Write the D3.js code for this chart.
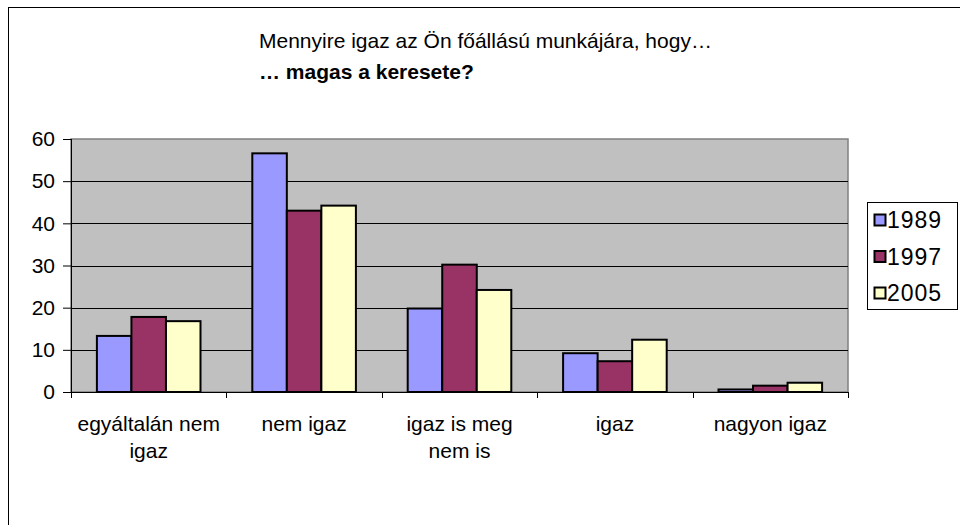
<!DOCTYPE html>
<html>
<head>
<meta charset="utf-8">
<script src="https://cdn.jsdelivr.net/npm/d3@7"></script>
<style>
  body { margin: 0; background: #fff; }
  text { font-family: "Liberation Sans", Arial, sans-serif; fill: #000; }
</style>
</head>
<body>
<svg id="chart" width="960" height="525"></svg>
<script>
// data
const categories = [["egyáltalán nem", "igaz"], ["nem igaz"], ["igaz is meg", "nem is"], ["igaz"], ["nagyon igaz"]];
const years = ["1989", "1997", "2005"];
const v1989 = [13.3, 56.6, 19.8, 9.2, 0.6];
const v1997 = [17.8, 43.0, 30.2, 7.3, 1.5];
const v2005 = [16.8, 44.2, 24.2, 12.4, 2.2];
const yTicks = [0, 10, 20, 30, 40, 50, 60];
const colors = ["#9999FF", "#993366", "#FFFFCC"];

const series = [v1989, v1997, v2005];
const svg = d3.select("#chart");

// outer chart frame
svg.append("rect")
  .attr("x", 8.5).attr("y", 7.5)
  .attr("width", 990).attr("height", 560)
  .attr("fill", "#fff").attr("stroke", "#000").attr("stroke-width", 1);

// title
svg.append("text").attr("x", 259).attr("y", 48)
  .style("font-size", "21px")
  .text("Mennyire igaz az Ön főállású munkájára, hogy…");
svg.append("text").attr("x", 259).attr("y", 79)
  .style("font-size", "21px").style("font-weight", "bold")
  .text("… magas a keresete?");

const pLeft = 71, pRight = 848, pTop = 139, pBottom = 392;

const x = d3.scaleBand()
  .domain(d3.range(categories.length))
  .range([pLeft, pRight]);
const x1 = d3.scaleBand()
  .domain(d3.range(years.length))
  .range([0, x.bandwidth()])
  .paddingInner(0)
  .paddingOuter(0.75);
const y = d3.scaleLinear().domain([0, 60]).range([pBottom, pTop]);

// plot area
svg.append("rect")
  .attr("x", pLeft).attr("y", pTop)
  .attr("width", pRight - pLeft).attr("height", pBottom - pTop)
  .attr("fill", "#C0C0C0").attr("stroke", "#808080").attr("stroke-width", 1.5);

// gridlines
svg.append("g")
  .selectAll("line")
  .data(yTicks.filter(d => d > 0 && d < 60))
  .join("line")
  .attr("x1", pLeft).attr("x2", pRight)
  .attr("y1", d => Math.round(y(d)) + 0.5).attr("y2", d => Math.round(y(d)) + 0.5)
  .attr("stroke", "#000").attr("stroke-width", 1);

// bars
svg.append("g")
  .selectAll("g")
  .data(series)
  .join("g")
  .attr("fill", (d, i) => colors[i])
  .each(function (vals, si) {
    d3.select(this).selectAll("rect")
      .data(vals)
      .join("rect")
      .attr("x", (d, ci) => x(ci) + x1(si))
      .attr("width", x1.bandwidth())
      .attr("y", d => y(d))
      .attr("height", d => y(0) - y(d))
      .attr("stroke", "#000").attr("stroke-width", 2);
  });

// y axis
const yAxis = d3.axisLeft(y).tickValues(yTicks).tickSize(8).tickPadding(8);
const gy = svg.append("g").attr("transform", "translate(" + pLeft + ",0)").call(yAxis);
gy.select(".domain").attr("stroke", "#000").attr("d", "M0.5," + pTop + "V" + (pBottom + 1));
gy.selectAll("line").attr("stroke", "#000");
gy.selectAll("text").style("font-size", "21px").style("font-family", "Liberation Sans, Arial, sans-serif");

// x axis with boundary ticks
const gx = svg.append("g");
gx.append("line")
  .attr("x1", pLeft).attr("x2", pRight)
  .attr("y1", pBottom + 0.5).attr("y2", pBottom + 0.5)
  .attr("stroke", "#000");
gx.selectAll(".tick")
  .data(d3.range(categories.length + 1))
  .join("line")
  .attr("x1", d => Math.round(pLeft + d * x.bandwidth()) + 0.5)
  .attr("x2", d => Math.round(pLeft + d * x.bandwidth()) + 0.5)
  .attr("y1", pBottom).attr("y2", pBottom + 6)
  .attr("stroke", "#000");

const labels = gx.selectAll("text.cat")
  .data(categories)
  .join("text")
  .attr("class", "cat")
  .attr("text-anchor", "middle")
  .style("font-size", "21px")
  .attr("transform", (d, i) => "translate(" + (x(i) + x.bandwidth() / 2) + ",431)");
labels.selectAll("tspan")
  .data(d => d)
  .join("tspan")
  .attr("x", 0)
  .attr("dy", (d, i) => i === 0 ? 0 : 27)
  .text(d => d);

// legend
const lg = svg.append("g");
lg.append("rect")
  .attr("x", 867.5).attr("y", 202.5)
  .attr("width", 90).attr("height", 107)
  .attr("fill", "#fff").attr("stroke", "#000");
const items = lg.selectAll("g.item")
  .data(years)
  .join("g")
  .attr("class", "item")
  .attr("transform", (d, i) => "translate(0," + (220 + i * 36.5) + ")");
items.append("rect")
  .attr("x", 874.5).attr("y", -5.5)
  .attr("width", 11).attr("height", 11)
  .attr("fill", (d, i) => colors[i])
  .attr("stroke", "#000").attr("stroke-width", 2);
items.append("text")
  .attr("x", 887).attr("y", 8)
  .style("font-size", "23px")
  .style("letter-spacing", "1px")
  .text(d => d);
</script>
</body>
</html>
